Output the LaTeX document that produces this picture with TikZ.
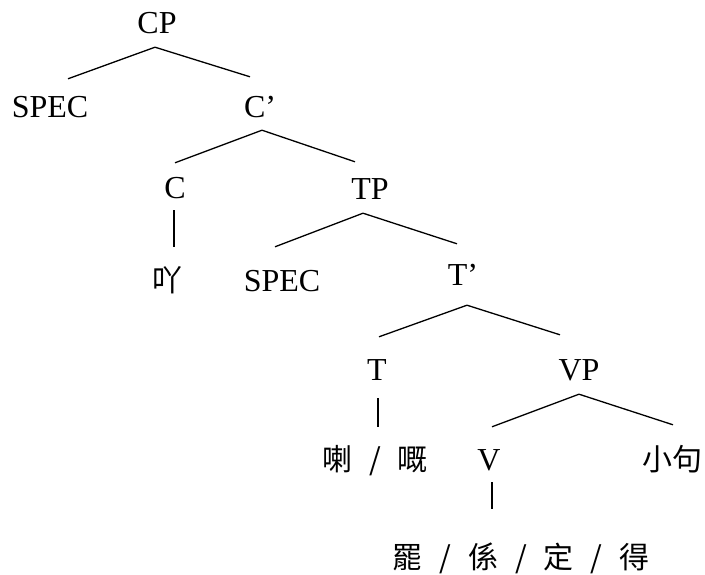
\documentclass[tikz,border=0pt]{standalone}
\usepackage{fontspec}
\setmainfont{Liberation Serif}
\newfontfamily\cjk{Noto Sans CJK TC}
\usepackage{tikz}
\usetikzlibrary{calc}
\newcommand{\sls}{\hspace{17pt}/\hspace{17pt}}
\tikzset{lab/.style={inner sep=0pt,anchor=base,text height=21pt,text depth=0pt,font=\fontsize{32}{38}\selectfont}}
\tikzset{zh/.style={lab,font=\fontsize{30}{36}\selectfont\cjk}}
\tikzset{br/.style={line width=1.3pt}}

\begin{document}
\begin{tikzpicture}[x=1pt,y=-1pt]
        \useasboundingbox (0,0) rectangle (705,575);
        \node[lab] (cp) at (157,34) {CP};
        \node[lab] (spec1) at (50,118) {SPEC};
        \node[lab] (cbar) at (260,118) {C’};
        \node[lab] (c) at (175,199) {C};
        \node[lab] (tp) at (370,200) {TP};
        \node[zh] (ya) at (167,291) {吖};
        \node[lab] (spec2) at (282,291) {SPEC};
        \node[lab] (tbar) at (463,286) {T’};
        \node[lab] (t) at (377,380) {T};
        \node[lab] (vp) at (579,380) {VP};
        \node[zh] (la) at (375,470) {喇\sls 嘅};
        \node[lab] (v) at (489,470) {V};
        \node[zh] (xiaoju) at (672,470) {小句};
        \node[zh] (ba) at (521,568) {罷\sls 係\sls 定\sls 得};

        \draw [br] ($(cp.south)+(-2,13)$) to [] ($(spec1.north)+(18,-18)$);
        \draw [br] ($(cp.south)+(-2,13)$) to [] ($(cbar.north)+(-10,-20)$);
        \draw [br] ($(cbar.south)+(2,12)$) to [] ($(c.north)+(0,-15)$);
        \draw [br] ($(cbar.south)+(2,12)$) to [] ($(tp.north)+(-15,-17)$);
        \draw [br] ($(c.south)+(-1,11)$) to [] ($(ya.north)+(7,-23)$);
        \draw [br] ($(tp.south)+(-7,13)$) to [] ($(spec2.north)+(-7,-23)$);
        \draw [br] ($(tp.south)+(-7,13)$) to [] ($(tbar.north)+(-6,-21)$);
        \draw [br] ($(tbar.south)+(4,19)$) to [] ($(t.north)+(2,-22)$);
        \draw [br] ($(tbar.south)+(4,19)$) to [] ($(vp.north)+(-19,-24)$);
        \draw [br] ($(t.south)+(1,18)$) to [] ($(la.north)+(3,-22)$);
        \draw [br] ($(vp.south)+(0,14)$) to [] ($(v.north)+(3,-22)$);
        \draw [br] ($(vp.south)+(0,14)$) to [] ($(xiaoju.north)+(1,-24)$);
        \draw [br] ($(v.south)+(3,12)$) to [] ($(v.south |- ba.north)+(3,-38)$);

    \end{tikzpicture}
\end{document}
